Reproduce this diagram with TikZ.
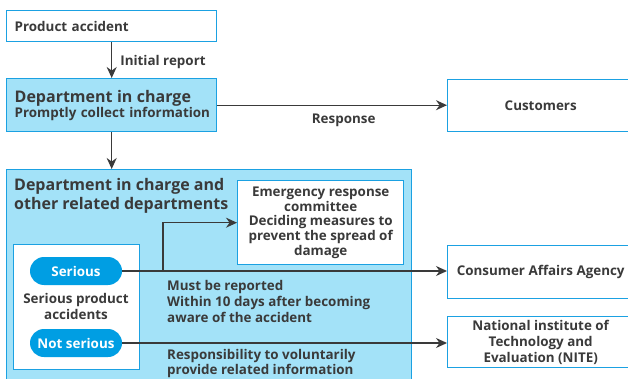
\documentclass[tikz,border=0pt]{standalone}
\usepackage{fontspec}
\setmainfont{Open Sans}
\usepackage{xcolor}
\usetikzlibrary{positioning, arrows.meta}
\definecolor{nblue}{HTML}{1BA1E2}
\definecolor{nfill}{HTML}{A3E2F8}
\definecolor{npill}{HTML}{009EE3}
\definecolor{ntext}{HTML}{3A3A3A}
\newcommand{\bodyfont}{\bfseries\fontsize{13.4}{16}\selectfont}
\newcommand{\headfont}{\bfseries\fontsize{16}{19}\selectfont}
\tikzset{
  box/.style={draw=nblue, line width=1.4pt, fill=white, text=ntext, font=\bodyfont, inner sep=0pt, align=center},
  pill/.style={fill=npill, text=white, font=\bodyfont, rounded corners=14pt, minimum width=92pt, minimum height=28pt, inner sep=0pt},
  flow/.style={draw=ntext, line width=1.3pt, -{Stealth[length=11pt,width=10pt]}},
  lbl/.style={text=ntext, font=\bodyfont, inner sep=0pt, align=left}
}
\begin{document}
\begin{tikzpicture}[x=1pt,y=-1pt]
\useasboundingbox (0,0) rectangle (628,379);
\clip (0,0) rectangle (628,379);

\node[box, anchor=north west, minimum width=210pt, minimum height=31pt, text width=194pt, align=left] (acc) at (6,10) {Product accident};
\node[box, anchor=north west, fill=nfill, minimum width=210pt, minimum height=53pt, text width=194pt, align=left] (dept) at (6,78)
  {{\headfont Department in charge}\\[-1pt] \mbox{Promptly collect information}};
\node[box, anchor=north west, minimum width=186pt, minimum height=52pt] (cust) at (447,79) {Customers};

% group of departments
\node[box, anchor=north west, fill=nfill, minimum width=405pt, minimum height=230pt] (grp) at (6,169) {};
\node[lbl, anchor=north west, font=\headfont] (grptitle) at (14,178) {Department in charge and\\ other related departments};
\node[box, anchor=north west, minimum width=166pt, minimum height=84pt, font=\bfseries\fontsize{13.4}{14.8}\selectfont] (erc) at (237,180)
  {Emergency response\\ committee\\ Deciding measures to\\ prevent the spread of\\ damage};
\node[box, anchor=north west, minimum width=126pt, minimum height=125pt] (spa) at (13,244) {};
\node[pill] (ser) at (76,271) {Serious};
\node[lbl, align=center] (spatext) at (76,306) {Serious product\\ accidents};
\node[pill] (nser) at (76,343) {Not serious};

\node[box, anchor=north west, minimum width=186pt, minimum height=53pt] (caa) at (447,245) {Consumer Affairs Agency};
\node[box, anchor=north west, minimum width=186pt, minimum height=51pt] (nite) at (447,316)
  {National institute of\\ Technology and\\ Evaluation (NITE)};

\coordinate (brk) at (163,271);

\draw[flow] (acc) -- node[lbl, right=8pt, yshift=-2pt] (irep) {Initial report} (dept);
\draw[flow] (dept.east) -- node[lbl, pos=0.55, below=8pt] (resp) {Response} (cust.west |- dept.east);
\draw[flow] (dept.south) -- (dept.south |- grp.north);

% reports
\draw[flow] (ser.east) -- (ser.east -| caa.west);
\draw[flow] (brk) |- (erc.west);
\draw[flow] (nser.east) -- (nser.east -| nite.west);

\node[lbl, anchor=north west] (must) at (167,280) {Must be reported\\ Within 10 days after becoming\\ aware of the accident};
\node[lbl, anchor=north west, font=\bfseries\fontsize{13.4}{15}\selectfont] (vol) at (167,349) {Responsibility to voluntarily\\ provide related information};
\end{tikzpicture}
\end{document}
